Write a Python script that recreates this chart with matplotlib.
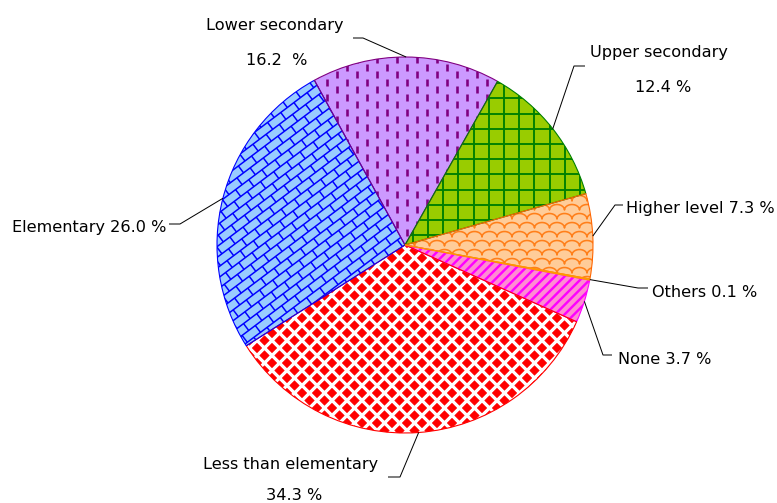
import numpy as np
import matplotlib
matplotlib.use("Agg")
import matplotlib.pyplot as plt
from matplotlib.collections import LineCollection, PolyCollection
from matplotlib.patches import Wedge

# ---------------- data ----------------
categories = ["Upper secondary", "Higher level", "Others", "None",
              "Less than elementary", "Elementary", "Lower secondary"]
values = [12.4, 7.3, 0.1, 3.7, 34.3, 26.0, 16.2]
label_lines = [["Upper secondary", "12.4 %"],
               ["Higher level 7.3 %"],
               ["Others 0.1 %"],
               ["None 3.7 %"],
               ["Less than elementary", "34.3 %"],
               ["Elementary 26.0 %"],
               ["Lower secondary", "16.2  %"]]

# ---------------- style ----------------
fills = ["#99CC00", "#FFCC99", "#FFFFFF", "#FF8CD2", "#FFFFFF", "#99CCFF", "#CC99FF"]
edges = ["#008000", "#FF6600", "#FF9900", "#FF00FF", "#FF0000", "#0000FF", "#800080"]
outline_order = [3, 4, 5, 6, 0, 1, 2]

W, H = 777, 503
PX = 0.72  # points per pixel at dpi 100
fig = plt.figure(figsize=(W / 100, H / 100), dpi=100)
ax = fig.add_axes([0, 0, 1, 1])

cx, cy, R = 405, H - 245, 188
wedges, _ = ax.pie(values, startangle=60.5, counterclock=False,
                   center=(cx, cy), radius=R, colors=fills,
                   wedgeprops=dict(linewidth=0))
ax.set_xlim(0, W)
ax.set_ylim(0, H)
ax.axis("off")

x0, x1, y0, y1 = cx - R - 20, cx + R + 20, cy - R - 20, cy + R + 20


def add_clipped(coll, wedge):
    ax.add_collection(coll)
    coll.set_clip_path(wedge)
    coll.set_zorder(2)


# Upper secondary: square grid
segs = []
for x in np.arange(x0 + 3, x1, 15.2):
    segs.append([(x, y0), (x, y1)])
for y in np.arange(y0 + 5, y1, 15.2):
    segs.append([(x0, y), (x1, y)])
add_clipped(LineCollection(segs, colors="#008000", linewidths=1.9 * PX), wedges[0])

# Higher level: scale pattern
segs = []
sw, sh, rs = 15.0, 5.5, 9.0
for j, yb in enumerate(np.arange(y0, y1, rs)):
    off = (j % 2) * sw / 2
    pts = []
    for xs in np.arange(x0 - sw + off, x1, sw):
        t = np.linspace(np.pi, 0, 14)
        pts.extend(zip(xs + sw / 2 + sw / 2 * np.cos(t), yb + sh * np.sin(t)))
    segs.append(pts)
add_clipped(LineCollection(segs, colors="#FF7F1A", linewidths=1.6 * PX), wedges[1])

# None: diagonal stripes
segs = []
L = 2 * R + 60
for k in np.arange(-L, L, 9.5):
    segs.append([(x0 + k, y0), (x0 + k + L, y0 + L)])
add_clipped(LineCollection(segs, colors="#FF00FF", linewidths=2.4 * PX), wedges[3])

# Less than elementary: red diamonds
polys = []
D, d = 15.0, 4.8
for j, yc in enumerate(np.arange(y0, y1, D / 2)):
    off = (j % 2) * D / 2
    for xc in np.arange(x0 + off, x1, D):
        polys.append([(xc - d, yc), (xc, yc + d), (xc + d, yc), (xc, yc - d)])
add_clipped(PolyCollection(polys, facecolors="#FF0000", edgecolors="#FF0000",
                           linewidths=0.5 * PX), wedges[4])

# Elementary: bricks
segs = []
a = np.deg2rad(37)
u = np.array([np.cos(a), np.sin(a)])
n = np.array([-np.sin(a), np.cos(a)])
p0 = np.array([cx, cy])
bw, bl = 8.6, 16.5
for k in range(-30, 31):
    base = p0 + k * bw * n
    segs.append([tuple(base - 300 * u), tuple(base + 300 * u)])
    off = (k % 2) * bl / 2
    for t in np.arange(-300 + off, 300, bl):
        s = base + t * u
        segs.append([tuple(s), tuple(s + bw * n)])
add_clipped(LineCollection(segs, colors="#0000FF", linewidths=1.5 * PX), wedges[5])

# Lower secondary: dashed vertical lines
segs = []
cs, per, dl = 10.0, 15.0, 7.0
for i, x in enumerate(np.arange(x0, x1, cs)):
    off = (i % 2) * per / 2
    for y in np.arange(y0 + off, y1, per):
        segs.append([(x, y), (x, y + dl)])
add_clipped(LineCollection(segs, colors="#800080", linewidths=2.6 * PX), wedges[6])

# Outlines
for z, i in enumerate(outline_order):
    w = wedges[i]
    ax.add_patch(Wedge(w.center, w.r, w.theta1, w.theta2, fill=False,
                       edgecolor=edges[i], linewidth=1.1 * PX, zorder=3 + z * 0.01))

# ---------------- labels & leaders ----------------
def P(x, y):
    return (x, H - y)

elbows = [[(574, 66), (585, 66)],
          [(615, 205), (623, 205)],
          [(638, 288), (648, 288)],
          [(603, 355), (612, 355)],
          [(400, 477), (388, 477)],
          [(180, 224), (169, 224)],
          [(363, 38), (353, 38)]]

text_pos = [[(659, 57, "center"), (663, 91.5, "center")],
            [(626, 213, "left")],
            [(652, 297, "left")],
            [(618, 364, "left")],
            [(291, 469, "center"), (294, 500, "center")],
            [(12, 232, "left")],
            [(275, 30, "center"), (277, 65, "center")]]

FS = 11.6
for i, w in enumerate(wedges):
    mid = np.deg2rad((w.theta1 + w.theta2) / 2)
    start = (cx + R * np.cos(mid), cy + R * np.sin(mid))
    pts = [start] + [P(*e) for e in elbows[i]]
    xs, ys = zip(*pts)
    ax.plot(xs, ys, color="#000000", linewidth=1.0 * PX, zorder=5,
            solid_capstyle="butt")
    for line, (tx, ty, ha) in zip(label_lines[i], text_pos[i]):
        ax.text(*P(tx, ty), line, ha=ha, va="baseline", fontsize=FS,
                family="DejaVu Sans", color="#000000", zorder=6)

fig.savefig("out.png", dpi=100)
